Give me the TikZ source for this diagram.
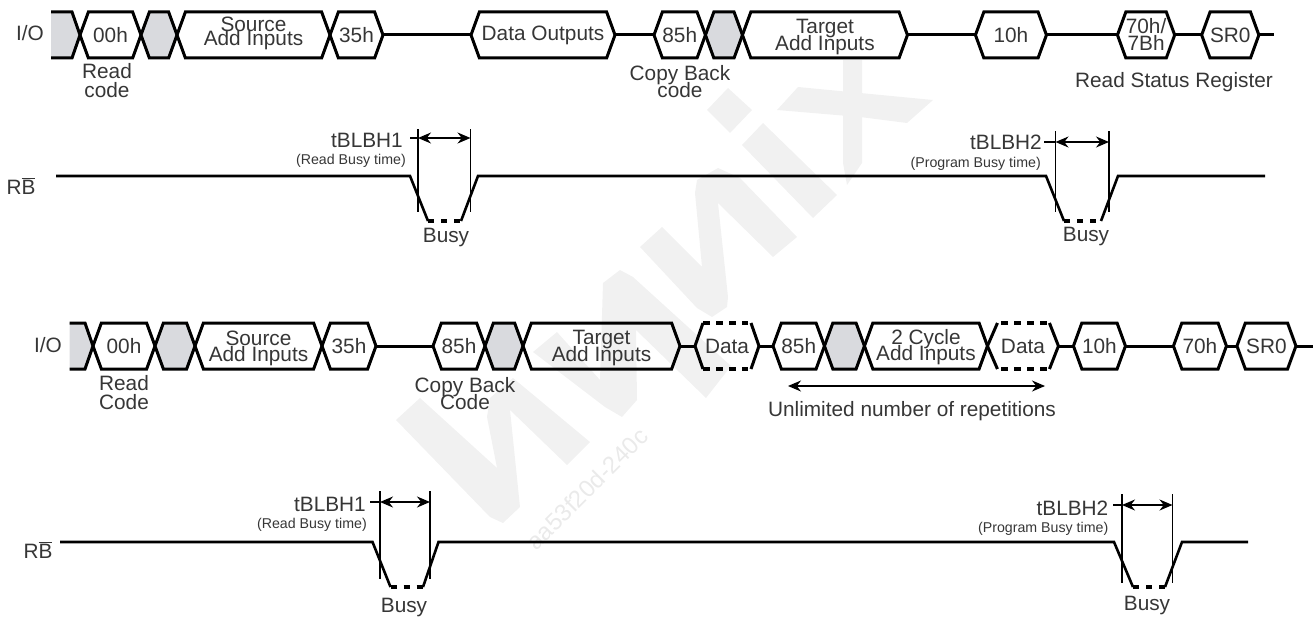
\documentclass[tikz,border=0pt]{standalone}
\usepackage{fontspec}
\setmainfont{Liberation Sans}
\usetikzlibrary{arrows.meta,positioning,shapes.symbols}
\definecolor{cellgray}{HTML}{D9DADE}
\definecolor{inkgray}{HTML}{363636}
\definecolor{wmgray}{HTML}{F1F1F1}
\definecolor{wmtext}{HTML}{EAEAEA}
\begin{document}
\begin{tikzpicture}[
        x=1pt, y=-1pt,
        buscell/.style={signal, signal to=east and west, signal pointer angle=140, draw=black, line width=3pt,
            minimum height=46pt, inner sep=0pt, outer sep=0pt, align=center, text=inkgray,
            font=\fontsize{20.8}{16}\selectfont},
        graycell/.style={buscell, fill=cellgray},
        busline/.style={black, line width=3pt},
        rbline/.style={black, line width=2.6pt},
        busyline/.style={black, line width=4.5pt, dash pattern=on 6pt off 7pt},
        datadash/.style={black, line width=3.4pt, dash pattern=on 7pt off 6pt},
        thinline/.style={black, line width=1.2pt},
        spanarrow/.style={thinline, {Stealth[length=13pt,width=11pt]}-{Stealth[length=13pt,width=11pt]}},
        lbl/.style={inner sep=0pt, align=center, text=inkgray, font=\fontsize{20.8}{19}\selectfont},
        smalllbl/.style={lbl, font=\fontsize{14.2}{16}\selectfont}
    ]
    \useasboundingbox (0,0) rectangle (1314,618);

    \fill[wmgray] (396,420) -- (420,398) -- (497,468) -- (487,417) -- (490,398) -- (513,378) -- (590,442) -- (567,465) -- (510,410) -- (520,507) -- (503,523) -- (490,517) -- cycle;
    \fill[wmgray] (533,352) -- (557,332) -- (600,380) -- (603,283) -- (620,270) -- (633,277) -- (731,366) -- (706,398) -- (636,330) -- (637,400) -- (622,417) -- (605,407) -- cycle;
    \fill[wmgray] (640,247) -- (662,227) -- (702,267) -- (695,193) -- (697,180) -- (718,168) -- (740,178) -- (797,237) -- (773,257) -- (718,203) -- (728,297) -- (727,307) -- (712,317) -- (697,308) -- cycle;
    \fill[wmgray] (707,110) -- (728,88) -- (752,110) -- (730,133) -- cycle;
    \fill[wmgray] (742,145) -- (763,123) -- (837,195) -- (813,218) -- cycle;
    \fill[wmgray] (843,60) -- (862,60) -- (862,163) -- (847,185) -- (843,163) -- cycle;
    \fill[wmgray] (777,110) -- (798,87) -- (933,100) -- (907,123) -- (860,117) -- cycle;
    \node[rotate=45, text=wmtext, inner sep=0pt, font=\fontsize{24}{24}\selectfont] (wmtag) at (587,489) {aa53f20d-240c};

    \node[buscell, minimum width=61pt] (codeA) at (110.5,35) {00h};
    \node[graycell, minimum width=36pt, right=0pt of codeA] (grayA) {};
    \node[buscell, minimum width=153pt, text depth=7pt, right=0pt of grayA] (srcA) {Source\\[-2pt]Add Inputs};
    \node[buscell, minimum width=53pt, right=0pt of srcA] (confA) {35h};
    \node[buscell, minimum width=144pt, right=88pt of confA] (dataout) {Data Outputs};
    \node[buscell, minimum width=49pt, right=39pt of dataout] (backA) {85h};
    \node[graycell, minimum width=37pt, right=0pt of backA] (grayB) {};
    \node[buscell, minimum width=165pt, text depth=0pt, right=0pt of grayB] (tgtA) {Target\\[-3pt]Add Inputs};
    \node[buscell, minimum width=71pt, right=68pt of tgtA] (progA) {10h};
    \node[buscell, minimum width=55pt, text depth=2pt, right=71pt of progA] (statA) {70h/\\[1pt]7Bh};
    \node[buscell, minimum width=55pt, right=27pt of statA] (srA) {SR0};
    \coordinate[right=15pt of srA] (endA);
    \fill[cellgray] (51,12) -- (72,12) -- (codeA.west) -- (72,58) -- (51,58) -- cycle;
    \draw[busline] (51,12) -- (72,12) -- (codeA.west) -- (72,58) -- (51,58);
    \draw[busline] (confA.east) -- (dataout.west);
    \draw[busline] (dataout.east) -- (backA.west);
    \draw[busline] (tgtA.east) -- (progA.west);
    \draw[busline] (progA.east) -- (statA.west);
    \draw[busline] (statA.east) -- (srA.west);
    \draw[busline] (srA.east) -- (endA);

    \node[lbl] (ioA) at (30,33) {I/O};
    \node[lbl] (readA) at (107,81) {Read\\code};
    \node[lbl] (copyA) at (680,81.5) {Copy Back\\[-3pt]code};
    \node[lbl] (statusA) at (1174,82) {Read Status Register};

    \node[lbl] (rbA) at (21,186) {R$\overline{\hbox{B}}$};
    \draw[rbline] (56,176) -- (410,176) -- (428,221);
    \draw[busyline] (428,221) -- (461,221);
    \draw[rbline] (461,221) -- (478,176) -- (1046,176) -- (1064,221);
    \draw[busyline] (1064,221) -- (1101,221);
    \draw[rbline] (1101,221) -- (1118,176) -- (1265,176);

    \coordinate (tickA) at (410,138);
    \coordinate (spanAl) at (418,138);
    \coordinate (spanAr) at (470.5,138);
    \draw[thinline] (tickA) -- (spanAl);
    \draw[spanarrow] (spanAl) -- (spanAr);
    \draw[thinline] ([yshift=9pt]spanAl) -- ([yshift=-74pt]spanAl);
    \draw[thinline] ([yshift=9pt]spanAr) -- ([yshift=-74pt]spanAr);
    \node[lbl, anchor=east] (tagA) at (403,140) {tBLBH1};
    \node[smalllbl, anchor=east] (noteA) at (406,161) {(Read Busy time)};
    \node[lbl] (busyA) at (446,238) {Busy};

    \coordinate (tickB) at (1044,142);
    \coordinate (spanBl) at (1055.5,142);
    \coordinate (spanBr) at (1109,142);
    \draw[thinline] (tickB) -- (spanBl);
    \draw[spanarrow] (spanBl) -- (spanBr);
    \draw[thinline] ([yshift=11pt]spanBl) -- ([yshift=-70pt]spanBl);
    \draw[thinline] ([yshift=11pt]spanBr) -- ([yshift=-70pt]spanBr);
    \node[lbl, anchor=east] (tagB) at (1042,142) {tBLBH2};
    \node[smalllbl, anchor=east] (noteB) at (1041,164) {(Program Busy time)};
    \node[lbl] (busyB) at (1086,237) {Busy};

    \node[buscell, minimum width=62pt] (codeB) at (124,346) {00h};
    \node[graycell, minimum width=40pt, right=0pt of codeB] (grayC) {};
    \node[buscell, minimum width=127pt, text depth=0pt, right=0pt of grayC] (srcB) {Source\\Add Inputs};
    \node[buscell, minimum width=54pt, right=0pt of srcB] (confB) {35h};
    \node[buscell, minimum width=52pt, right=57pt of confB] (backB) {85h};
    \node[graycell, minimum width=38pt, right=0pt of backB] (grayD) {};
    \node[buscell, minimum width=157pt, text depth=0pt, right=0pt of grayD] (tgtB) {Target\\[-3pt]Add Inputs};
    \node[buscell, draw=none, minimum width=64pt, right=15pt of tgtB] (datA) {Data};
    \node[buscell, minimum width=50pt, right=14pt of datA] (backC) {85h};
    \node[graycell, minimum width=40pt, right=0pt of backC] (grayE) {};
    \node[buscell, minimum width=123pt, text depth=2pt, right=0pt of grayE] (cycle) {2 Cycle\\[-4pt]Add Inputs};
    \node[buscell, draw=none, minimum width=71pt, right=0pt of cycle] (datB) {Data};
    \node[buscell, minimum width=52pt, right=15pt of datB] (progB) {10h};
    \node[buscell, minimum width=53pt, right=48pt of progB] (statB) {70h};
    \node[buscell, minimum width=59pt, right=10.5pt of statB] (srB) {SR0};
    \coordinate[right=17pt of srB] (endB);
    \fill[cellgray] (69.5,323) -- (85,323) -- (codeB.west) -- (85,369) -- (69.5,369) -- cycle;
    \draw[busline] (69.5,323) -- (85,323) -- (codeB.west) -- (85,369) -- (69.5,369);
    \draw[busline] ([shift={(8pt,23pt)}]datA.west) -- (datA.west) -- ([shift={(8pt,-23pt)}]datA.west);
    \draw[busline] ([shift={(-8pt,23pt)}]datA.east) -- (datA.east) -- ([shift={(-8pt,-23pt)}]datA.east);
    \draw[datadash] ([shift={(8pt,23pt)}]datA.west) -- ([shift={(-11pt,23pt)}]datA.east);
    \draw[datadash] ([shift={(8pt,-23pt)}]datA.west) -- ([shift={(-11pt,-23pt)}]datA.east);
    \draw[busline] ([shift={(10pt,23pt)}]datB.west) -- (datB.west) -- ([shift={(10pt,-23pt)}]datB.west);
    \draw[busline] ([shift={(-9pt,23pt)}]datB.east) -- (datB.east) -- ([shift={(-9pt,-23pt)}]datB.east);
    \draw[datadash] ([shift={(14pt,23pt)}]datB.west) -- ([shift={(-10pt,23pt)}]datB.east);
    \draw[datadash] ([shift={(14pt,-23pt)}]datB.west) -- ([shift={(-10pt,-23pt)}]datB.east);
    \draw[busline] (confB.east) -- (backB.west);
    \draw[busline] (tgtB.east) -- (datA.west);
    \draw[busline] (datA.east) -- (backC.west);
    \draw[busline] (datB.east) -- (progB.west);
    \draw[busline] (progB.east) -- (statB.west);
    \draw[busline] (statB.east) -- (srB.west);
    \draw[busline] (srB.east) -- (endB);

    \node[lbl] (ioB) at (48,345) {I/O};
    \node[lbl] (readB) at (124,392.5) {Read\\Code};
    \node[lbl] (copyB) at (465,393.5) {Copy Back\\[-3pt]Code};
    \coordinate (repl) at (788,386);
    \coordinate (repr) at (1045,386);
    \draw[spanarrow] (repl) -- (repr);
    \node[lbl] (repeat) at (912,411) {Unlimited number of repetitions};

    \node[lbl] (rbB) at (38,550) {R$\overline{\hbox{B}}$};
    \draw[rbline] (60,542) -- (372.5,542) -- (390.5,587);
    \draw[busyline] (390.5,587) -- (423,587);
    \draw[rbline] (423,587) -- (438.5,542) -- (1114,542) -- (1133,587);
    \draw[busyline] (1133,587) -- (1165,587);
    \draw[rbline] (1165,587) -- (1182,542) -- (1248,542);

    \coordinate (tickC) at (370,502);
    \coordinate (spanCl) at (380,502);
    \coordinate (spanCr) at (430,502);
    \draw[thinline] (tickC) -- (spanCl);
    \draw[spanarrow] (spanCl) -- (spanCr);
    \draw[thinline] ([yshift=11pt]spanCl) -- ([yshift=-77pt]spanCl);
    \draw[thinline] ([yshift=11pt]spanCr) -- ([yshift=-77pt]spanCr);
    \node[lbl, anchor=east] (tagC) at (366,504) {tBLBH1};
    \node[smalllbl, anchor=east] (noteC) at (367,525) {(Read Busy time)};
    \node[lbl] (busyC) at (404,607) {Busy};

    \coordinate (tickD) at (1113,505);
    \coordinate (spanDl) at (1122,505);
    \coordinate (spanDr) at (1172.5,505);
    \draw[thinline] (tickD) -- (spanDl);
    \draw[spanarrow] (spanDl) -- (spanDr);
    \draw[thinline] ([yshift=11pt]spanDl) -- ([yshift=-78pt]spanDl);
    \draw[thinline] ([yshift=11pt]spanDr) -- ([yshift=-78pt]spanDr);
    \node[lbl, anchor=east] (tagD) at (1108.5,508) {tBLBH2};
    \node[smalllbl, anchor=east] (noteD) at (1108.5,529) {(Program Busy time)};
    \node[lbl] (busyD) at (1147,605) {Busy};
\end{tikzpicture}
\end{document}
